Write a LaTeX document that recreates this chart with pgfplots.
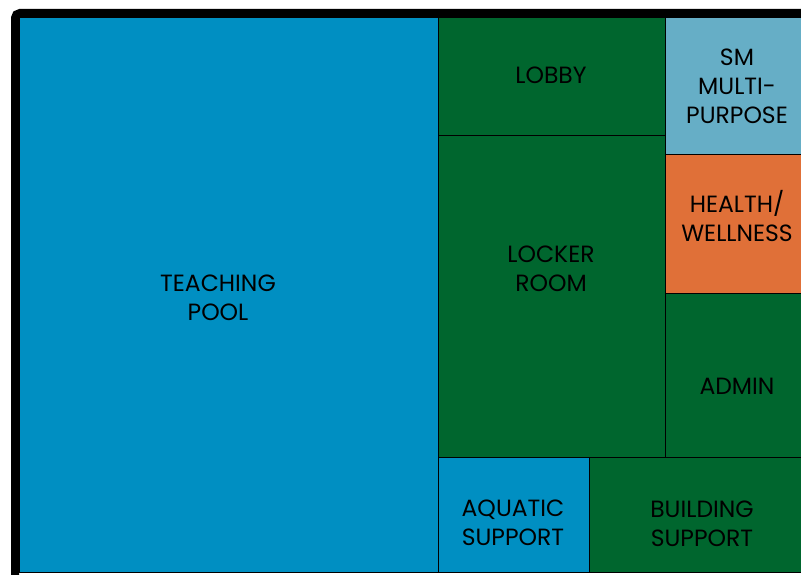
\documentclass[border=0pt]{standalone}
\usepackage{fontspec}
\setmainfont{Poppins}
\usepackage{pgfplots}
\pgfplotsset{compat=1.18}
\definecolor{cpool}{RGB}{0,143,194}
\definecolor{cgreen}{RGB}{0,102,46}
\definecolor{clight}{RGB}{102,174,198}
\definecolor{corange}{RGB}{224,112,56}
\begin{document}
\begin{tikzpicture}
\begin{axis}[
  width=801pt, height=575pt, scale only axis,
  xmin=0, xmax=801, ymin=0, ymax=575, y dir=reverse,
  hide axis, clip=false,
  every axis plot/.append style={draw=black, line width=0.8pt},
]
\coordinate (bl) at (axis cs:0,575);
\coordinate (tr) at (axis cs:801,0);
% Teaching pool
\addplot[fill=cpool] coordinates {(19,17) (438,17) (438,572) (19,572)} --cycle;
% Lobby
\addplot[fill=cgreen] coordinates {(438,17) (665,17) (665,135) (438,135)} --cycle;
% Locker room
\addplot[fill=cgreen] coordinates {(438,135) (665,135) (665,457) (438,457)} --cycle;
% SM multi-purpose
\addplot[fill=clight] coordinates {(665,17) (801,17) (801,154) (665,154)} --cycle;
% Health/wellness
\addplot[fill=corange] coordinates {(665,154) (801,154) (801,293) (665,293)} --cycle;
% Admin
\addplot[fill=cgreen] coordinates {(665,293) (801,293) (801,457) (665,457)} --cycle;
% Aquatic support
\addplot[fill=cpool] coordinates {(438,457) (589,457) (589,572) (438,572)} --cycle;
% Building support
\addplot[fill=cgreen] coordinates {(589,457) (801,457) (801,572) (589,572)} --cycle;
% frame
\draw[black, line width=8pt, rounded corners=5pt] (axis cs:15,575) -- (axis cs:15,13) -- (axis cs:801,13);
\tikzset{lab/.style={align=center, inner sep=0pt, text=black, font=\fontsize{23.5}{29}\selectfont}}
\node[lab] at (axis cs:218,298) {TEACHING\\POOL};
\node[lab] at (axis cs:551,75) {LOBBY};
\node[lab] at (axis cs:551,269) {LOCKER\\ROOM};
\node[lab] at (axis cs:737,86) {SM\\MULTI-\\PURPOSE};
\node[lab] at (axis cs:737,216) {HEALTH/\\WELLNESS};
\node[lab] at (axis cs:737,386) {ADMIN};
\node[lab] at (axis cs:513,523) {AQUATIC\\SUPPORT};
\node[lab] at (axis cs:702,524) {BUILDING\\SUPPORT};
\end{axis}
\pgfresetboundingbox
\path[use as bounding box] (bl) rectangle (tr);
\end{tikzpicture}
\end{document}
